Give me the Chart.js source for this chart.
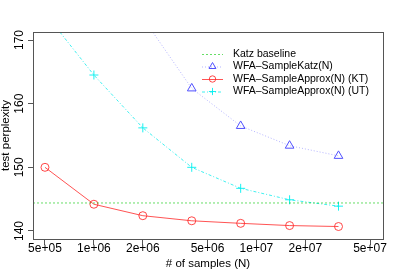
<!DOCTYPE html>
<html>
<head>
<style>
	body { margin: 0; background: #fff; }
</style>
</head>
<body>
	<canvas id="myChart" width="400" height="280"></canvas>

	<script src="https://cdn.jsdelivr.net/npm/chart.js"></script>

	<script>
		// data
		const samples = [5e5, 1e6, 2e6, 4e6, 8e6, 1.6e7, 3.2e7];
		const katzBaseline = 144.4;
		const sampleKatz = [null, null, 173.5, 162.4, 156.5, 153.4, 151.8];
		const approxKT = [150.0, 144.2, 142.4, 141.6, 141.2, 140.85, 140.7];
		const approxUT = [174.2, 164.5, 156.2, 150.0, 146.7, 144.9, 143.9];

		const xTicks = [5e5, 1e6, 2e6, 5e6, 1e7, 2e7, 5e7];
		const xTickLabels = ['5e+05', '1e+06', '2e+06', '5e+06', '1e+07', '2e+07', '5e+07'];
		const yTicks = [140, 150, 160, 170];
		const xRange = [4.22e5, 6.01e7];
		const yRange = [138.74, 171.26];

		const FONT = '"Liberation Sans", Arial, Helvetica, sans-serif';

		function pairs(xs, ys) {
			return xs.map((x, i) => ({ x: x, y: ys[i] })).filter(p => p.y !== null);
		}

		const series = [
			{ label: 'Katz baseline', color: 'rgba(0,200,0,0.6)', lineColor: 'rgba(0,200,0,0.6)', dash: [2, 2], style: null,
				data: [{ x: xRange[0], y: katzBaseline }, { x: xRange[1], y: katzBaseline }] },
			{ label: 'WFA\u2013SampleKatz(N)', color: 'rgb(80,80,255)', lineColor: 'rgba(120,120,255,0.55)', dash: [1, 2], style: 'triangle', radius: 5,
				data: pairs(samples, sampleKatz) },
			{ label: 'WFA\u2013SampleApprox(N) (KT)', color: 'rgba(255,40,40,0.85)', lineColor: 'rgba(255,40,40,0.8)', dash: [], style: 'circle', radius: 4,
				data: pairs(samples, approxKT) },
			{ label: 'WFA\u2013SampleApprox(N) (UT)', color: 'rgba(0,240,240,0.9)', lineColor: 'rgba(0,235,235,0.75)', dash: [3, 2, 1, 2], style: 'cross', radius: 4.5,
				data: pairs(samples, approxUT) },
		];

		function drawMarker(ctx, style, r, x, y) {
			ctx.beginPath();
			if (style == 'circle') {
				ctx.arc(x, y, r, 0, Math.PI * 2);
			} else if (style == 'triangle') {
				for (let k = 0; k < 3; k++) {
					const a = k * 2 * Math.PI / 3;
					const px = x + Math.sin(a) * r, py = y - Math.cos(a) * r;
					if (k == 0) ctx.moveTo(px, py); else ctx.lineTo(px, py);
				}
				ctx.closePath();
			} else if (style == 'cross') {
				ctx.moveTo(x - r, y); ctx.lineTo(x + r, y);
				ctx.moveTo(x, y - r); ctx.lineTo(x, y + r);
			}
			ctx.stroke();
		}

		// R style frame, tick labels, titles and legend
		const rFrame = {
			id: 'rFrame',
			afterDatasetsDraw(chart) {
				const { ctx, chartArea: a, scales } = chart;
				ctx.save();
				ctx.strokeStyle = '#555';
				ctx.lineWidth = 1;
				ctx.strokeRect(a.left + 0.5, a.top + 0.5, a.right - a.left, a.bottom - a.top);

				ctx.fillStyle = '#000';
				ctx.font = '12px ' + FONT;
				ctx.textAlign = 'center';
				ctx.textBaseline = 'middle';
				xTicks.forEach((v, i) => {
					ctx.fillText(xTickLabels[i], scales.x.getPixelForValue(v), 249);
				});
				yTicks.forEach(v => {
					ctx.save();
					ctx.translate(20, scales.y.getPixelForValue(v));
					ctx.rotate(-Math.PI / 2);
					ctx.fillText(String(v), 0, 0);
					ctx.restore();
				});

				ctx.font = '11.5px ' + FONT;
				ctx.save();
				ctx.translate(6, (a.top + a.bottom) / 2);
				ctx.rotate(-Math.PI / 2);
				ctx.fillText('test perplexity', 0, 0);
				ctx.restore();
				ctx.fillText('# of samples (N)', (a.left + a.right) / 2, 264);

				// legend
				const rows = [54, 66.5, 79, 91.5];
				ctx.font = '10.5px ' + FONT;
				ctx.textAlign = 'left';
				series.forEach((s, i) => {
					const y = rows[i];
					ctx.strokeStyle = s.lineColor;
					ctx.setLineDash(s.dash);
					ctx.beginPath();
					ctx.moveTo(202, y + 0.5);
					ctx.lineTo(223, y + 0.5);
					ctx.stroke();
					ctx.setLineDash([]);
					if (s.style) {
						ctx.strokeStyle = s.color;
						drawMarker(ctx, s.style, s.radius * 0.8, 212.5, y);
					}
					ctx.fillStyle = '#000';
					ctx.fillText(s.label, 233, y);
				});
				ctx.restore();
			}
		};

		const data = {
			datasets: series.map(s => ({
				label: s.label,
				data: s.data,
				showLine: true,
				fill: false,
				borderColor: s.lineColor,
				borderWidth: 1,
				borderDash: s.dash,
				tension: 0,
				pointStyle: s.style || false,
				pointRadius: s.style ? s.radius : 0,
				pointBorderColor: s.color,
				pointBackgroundColor: 'rgba(0,0,0,0)',
				pointBorderWidth: 1,
			}))
		};

		const options = {
			responsive: false,
			animation: false,
			devicePixelRatio: 1,
			layout: { padding: { top: 32, right: 17, left: 0, bottom: 0 } },
			plugins: { legend: { display: false }, tooltip: { enabled: false } },
			scales: {
				x: {
					type: 'logarithmic',
					min: xRange[0],
					max: xRange[1],
					afterBuildTicks: s => { s.ticks = xTicks.map(v => ({ value: v })); },
					afterFit: s => { s.height = 41; },
					ticks: { display: false },
					grid: { display: true, drawOnChartArea: false, drawTicks: true, tickLength: 6, color: '#555' },
					border: { display: false },
				},
				y: {
					type: 'linear',
					min: yRange[0],
					max: yRange[1],
					afterBuildTicks: s => { s.ticks = yTicks.map(v => ({ value: v })); },
					afterFit: s => { s.width = 33; },
					ticks: { display: false },
					grid: { display: true, drawOnChartArea: false, drawTicks: true, tickLength: 5, color: '#555' },
					border: { display: false },
				}
			}
		};

		const chart = new Chart(document.getElementById('myChart'), {
			type: 'scatter',
			data: data,
			options: options,
			plugins: [rFrame],
		});
	</script>
</body>
</html>
